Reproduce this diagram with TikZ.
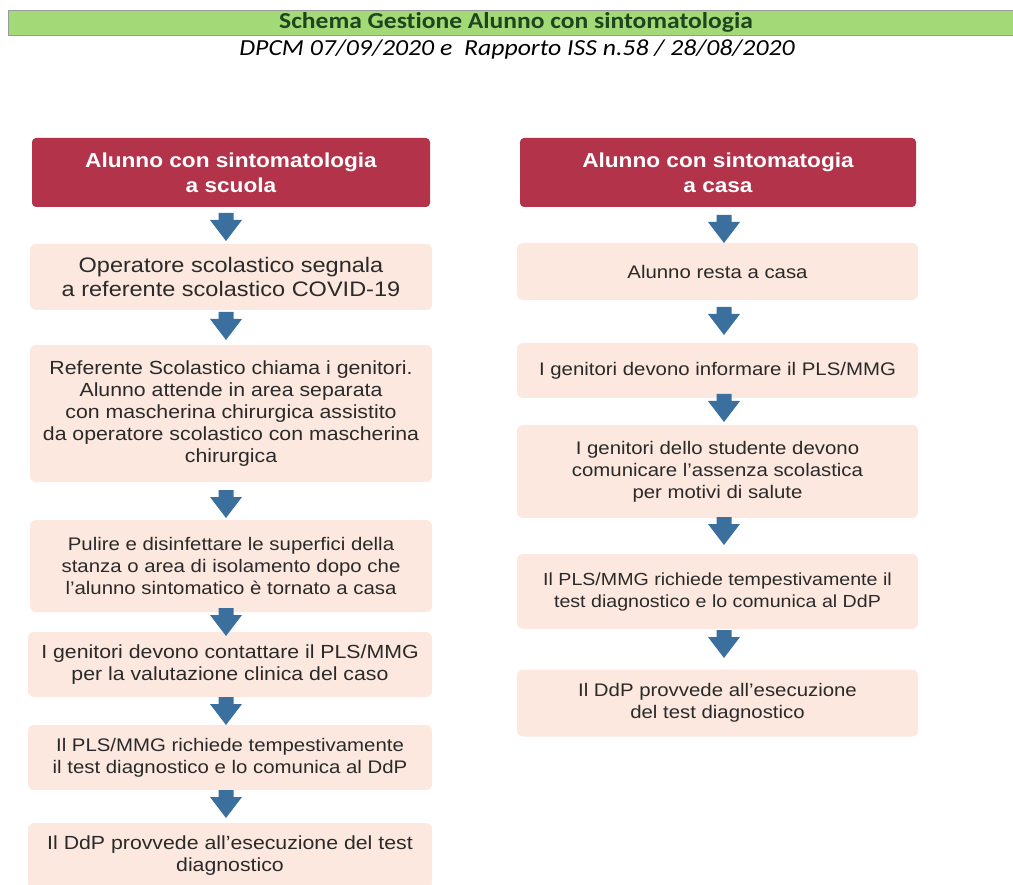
\documentclass[tikz,border=0pt]{standalone}
\usepackage{fontspec}
\setmainfont[FakeStretch=1.12]{Liberation Sans}
\newfontfamily\calib[FakeStretch=1.12,Ligatures=NoCommon]{Carlito}
\definecolor{hdrred}{HTML}{B3334A}
\definecolor{boxfill}{HTML}{FCE8DE}
\definecolor{arrowblue}{HTML}{3A6F9E}
\definecolor{barGreen}{HTML}{A3D976}
\definecolor{barEdge}{HTML}{9A9A9A}
\definecolor{titleGreen}{HTML}{1E451E}
\definecolor{txt}{HTML}{2A2A2A}
\tikzset{
  hdr/.style={fill=hdrred, rounded corners=4pt, text=white, align=center, inner sep=0pt,
    font=\bfseries\fontsize{20.2}{25}\selectfont},
  stepbox/.style={fill=boxfill, rounded corners=6pt, text=txt, align=center, inner sep=0pt,
    font=\fontsize{18.2}{22}\selectfont},
  bigtext/.style={font=\fontsize{19}{22}\selectfont},
  downarrow/.pic={\fill[arrowblue] (-7.5,0) -- (7.5,0) -- (7.5,7) -- (16,7) -- (0,28) -- (-16,7) -- (-7.5,7) -- cycle;}
}
\begin{document}
\begin{tikzpicture}[x=1pt,y=-1pt]
\useasboundingbox (0,0) rectangle (1013,885);
% title bar
\fill[barGreen] (8,10) rectangle (1013,35);
\draw[barEdge, line width=0.8pt] (1013,10) -- (8,10) -- (8,35) -- (1013,35);
\node[text=titleGreen, font=\calib\bfseries\fontsize{22.8}{26}\selectfont, inner sep=0pt] (title) at (516,22.5) {Schema Gestione Alunno con sintomatologia};
\node[text=black, font=\calib\itshape\fontsize{23}{26}\selectfont, inner sep=0pt] (subtitle) at (517,49) {DPCM 07/09/2020 e\ \ Rapporto ISS n.58 / 28/08/2020};

% left column
\node[hdr, minimum width=398pt, minimum height=69pt] (L0) at (231,172.5) {Alunno con sintomatologia\\a scuola};
\node[stepbox, minimum width=402pt, minimum height=66pt, font=\fontsize{21}{24}\selectfont] (L1) at (231,277) {Operatore scolastico segnala\\a referente scolastico COVID-19};
\node[stepbox, bigtext, minimum width=402pt, minimum height=137pt] (L2) at (231,413.5) {Referente Scolastico chiama i genitori.\\Alunno attende in area separata\\con mascherina chirurgica assistito\\da operatore scolastico con mascherina\\chirurgica};
\node[stepbox, minimum width=402pt, minimum height=92pt] (L3) at (231,566) {Pulire e disinfettare le superfici della\\stanza o area di isolamento dopo che\\l'alunno sintomatico è tornato a casa};
\node[stepbox, bigtext, minimum width=404pt, minimum height=65pt] (L4) at (230,664.5) {I genitori devono contattare il PLS/MMG\\per la valutazione clinica del caso};
\node[stepbox, minimum width=404pt, minimum height=65pt] (L5) at (230,757.5) {Il PLS/MMG richiede tempestivamente\\il test diagnostico e lo comunica al DdP};
\node[stepbox, bigtext, minimum width=404pt, minimum height=66pt] (L6) at (230,856) {Il DdP provvede all'esecuzione del test\\diagnostico};

\pic at (226,213) {downarrow};
\pic at (226,312) {downarrow};
\pic at (226,490) {downarrow};
\pic at (226,608) {downarrow};
\pic at (226,697) {downarrow};
\pic at (226,790) {downarrow};

% right column
\node[hdr, minimum width=396pt, minimum height=69pt] (R0) at (718,172.5) {Alunno con sintomatogia\\a casa};
\node[stepbox, minimum width=401pt, minimum height=57pt] (R1) at (717.5,271.5) {Alunno resta a casa};
\node[stepbox, minimum width=401pt, minimum height=55pt] (R2) at (717.5,370.5) {I genitori devono informare il PLS/MMG};
\node[stepbox, minimum width=401pt, minimum height=93pt] (R3) at (717.5,471.5) {I genitori dello studente devono\\comunicare l'assenza scolastica\\per motivi di salute};
\node[stepbox, minimum width=401pt, minimum height=75pt, font=\fontsize{17.5}{22}\selectfont] (R4) at (717.5,591.5) {Il PLS/MMG richiede tempestivamente il\\test diagnostico e lo comunica al DdP};
\node[stepbox, minimum width=401pt, minimum height=67pt] (R5) at (717.5,703) {Il DdP provvede all'esecuzione\\del test diagnostico};

\pic at (724,215) {downarrow};
\pic at (724,307) {downarrow};
\pic at (724,394) {downarrow};
\pic at (724,517) {downarrow};
\pic at (724,630) {downarrow};
\end{tikzpicture}
\end{document}
